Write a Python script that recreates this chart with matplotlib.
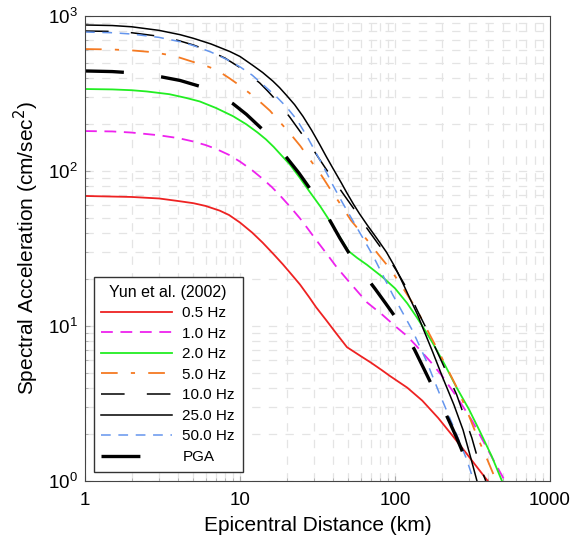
import numpy as np
import matplotlib
matplotlib.use("Agg")
from matplotlib import pyplot as plt

plt.rcParams['font.family'] = ['Liberation Sans', 'DejaVu Sans']
plt.rcParams['lines.scale_dashes'] = False

# values (distance km -> spectral acceleration cm/s^2)
d_05 = [1, 2, 3, 4, 5, 6, 7.4, 8.5, 10, 12, 14, 16.5, 18.9, 21.5, 24.4, 28, 31, 36, 42, 49,
        60, 70, 82, 93, 120, 150, 190, 236, 290, 340, 397]
sa_05 = [69, 68, 66.5, 64, 62, 59.5, 55.5, 52, 46.5, 40, 34.5, 29, 25, 21.5, 18.5, 15.3, 13.2, 10.9, 8.9, 7.3,
         6.4, 5.8, 5.2, 4.75, 4.0, 3.3, 2.55, 1.95, 1.5, 1.22, 1.0]

d_10 = [1, 1.5, 2, 3, 4, 5, 6, 7, 8.5, 10, 12, 14, 16, 18, 21, 25, 30, 36, 42, 49, 57, 66, 83,
        100, 120, 138, 169, 200, 250, 318, 410, 512]
sa_10 = [181, 180, 177, 170, 163, 155, 147, 139, 127, 115, 101, 89, 79, 70, 59, 48, 37.5, 29.5, 24,
         20, 16.8, 14.2, 11.8, 10, 8.6, 7.4, 5.9, 4.8, 3.5, 2.4, 1.5, 1.0]

d_20 = [1, 1.5, 2, 2.5, 3.5, 4.5, 5.5, 7, 9, 11, 13, 14.7, 16.5, 18, 21, 24.4, 28, 33, 38, 44, 50,
        57, 66, 83, 100, 120, 138, 155, 176, 210, 250, 300, 352, 420, 490]
sa_20 = [338, 336, 332, 326, 313, 296, 281, 255, 226, 200, 177, 160, 143, 130, 110, 90, 74, 59, 47.5,
         37.5, 30.5, 27.5, 24.8, 20.7, 17.5, 14, 11.4, 9.5, 7.7, 5.6, 4.0, 2.9, 2.1, 1.45, 1.0]

d_50 = [1, 1.5, 2, 2.7, 3.4, 4.1, 5, 6, 6.7, 7.6, 8.6, 10, 12, 14, 15.6, 18, 21, 24.5, 28, 33, 38,
        45, 52, 57, 63, 69, 78, 88, 100, 115, 138, 160, 186, 220, 254, 295, 338, 397, 450]
sa_50 = [612, 608, 600, 585, 563, 538, 505, 478, 458, 428, 395, 355, 308, 270, 245, 208, 175, 145,
         120, 96, 77, 60, 48, 43, 38, 34, 29, 25, 21, 17, 12.8, 9.6, 7.2, 5.2, 3.9, 2.75, 1.95, 1.35, 1.0]

d_100 = [1, 1.5, 2, 3, 4, 5, 6.5, 8, 10, 11.5, 13.4, 15, 16.8, 19, 21, 25, 30, 35, 40, 46, 55, 63,
         71, 84, 95, 103, 119, 141, 163, 200, 250, 275, 313, 338, 360, 385]
sa_100 = [800, 795, 780, 740, 695, 650, 590, 535, 465, 418, 370, 330, 292, 252, 222, 174, 135, 107,
          88, 72, 56, 45.5, 38.5, 30.5, 25.5, 22.5, 17.5, 12.3, 9.2, 5.9, 3.6, 2.75, 1.9, 1.45, 1.2, 1.0]

d_250 = [1, 1.5, 2, 3, 4.1, 5, 6.5, 8.6, 10, 12.1, 14, 16.3, 18, 20, 22.5, 25.5, 29, 32.7, 36, 40,
         45, 49, 54, 59, 66, 76, 88, 100, 112, 125, 140, 152, 175, 204, 240, 275, 310, 338]
sa_250 = [875, 868, 852, 808, 758, 718, 660, 590, 548, 480, 432, 380, 345, 307, 268, 225, 183, 148,
          124, 103, 84, 72, 61, 53, 45, 37, 30, 24, 19, 15, 11.8, 9.6, 6.8, 4.6, 3.1, 2.13, 1.38, 1.0]

d_500 = [1, 1.5, 2, 3, 4.1, 5, 6.5, 8.2, 10, 12, 14, 17, 20, 23.2, 27, 31.3, 35, 40, 46, 54, 62,
         72, 84, 97, 112, 130, 160, 195, 240, 290, 322]
sa_500 = [788, 780, 765, 728, 683, 645, 585, 525, 470, 415, 362, 305, 258, 215, 168, 128, 104, 80,
          62, 47, 37, 28.5, 21, 15.8, 12.2, 9.3, 5.9, 3.6, 2.2, 1.38, 1.0]

d_pga = [1, 1.5, 2, 3.1, 4.1, 5.5, 7, 9, 11, 14, 17, 20, 24, 28, 33, 38, 44, 50, 60, 74, 87, 100,
         115, 134, 155, 176, 200, 225, 250, 280, 320]
sa_pga = [442, 438, 430, 405, 384, 352, 316, 272, 232, 185, 148, 122, 97, 78, 61, 48, 37, 30, 23,
          17.5, 14, 11.5, 9.2, 7.0, 5.2, 4.0, 3.1, 2.4, 1.9, 1.45, 1.0]

labels = ['0.5 Hz', '1.0 Hz', '2.0 Hz', '5.0 Hz', '10.0 Hz', '25.0 Hz', '50.0 Hz', 'PGA']

fig = plt.figure(figsize=(5.75, 5.47), dpi=100)
ax = fig.add_axes([85/575, 66/547, 465/575, 465/547])

ax.plot(d_05, sa_05, color='#ee2222', lw=1.3, label=labels[0])
ax.plot(d_10, sa_10, color='#ee22ee', lw=1.3, dashes=(8.5, 5.5), label=labels[1])
ax.plot(d_20, sa_20, color='#22ee22', lw=1.3, label=labels[2])
ax.plot(d_50, sa_50, color='#f57a22', lw=1.3, dashes=(12, 9.5, 3, 9.5), label=labels[3])
ax.plot(d_100, sa_100, color='black', lw=1.1, dashes=(17, 16), label=labels[4])
ax.plot(d_250, sa_250, color='black', lw=1.1, label=labels[5])
ax.plot(d_500, sa_500, color='#6495ed', lw=1.1, dashes=(7, 5.5), label=labels[6])
ax.plot(d_pga, sa_pga, color='black', lw=2.4, dashes=(28, 27), label=labels[7])

ax.set_xscale('log')
ax.set_yscale('log')
ax.set_xlim(1, 1000)
ax.set_ylim(1, 1000)
ax.set_xticks([1, 10, 100, 1000])
ax.set_xticklabels(['1', '10', '100', '1000'])

ax.grid(True, which='both', color='#e4e4e4', lw=0.9, dashes=(6, 6))
ax.tick_params(which='both', direction='in', labelsize=13.5, color='#aaaaaa')
ax.tick_params(axis='x', which='major', pad=8)
ax.tick_params(axis='y', which='major', pad=5)
for s in ax.spines.values():
    s.set_color('#444444')

ax.set_xlabel('Epicentral Distance (km)', fontsize=15, labelpad=5)
ax.set_ylabel('Spectral Acceleration (cm/sec$^2$)', fontsize=15, labelpad=5)

leg = ax.legend(title='Yun et al. (2002)', loc='upper left', bbox_to_anchor=(0.019, 0.439),
                borderaxespad=0, fontsize=11, title_fontsize=11.5, handlelength=4.6,
                handletextpad=0.7, labelspacing=0.43, fancybox=False, framealpha=1,
                edgecolor='#333333', borderpad=0.5)
leg.get_frame().set_linewidth(1.0)

fig.savefig('out.png', dpi=100)
